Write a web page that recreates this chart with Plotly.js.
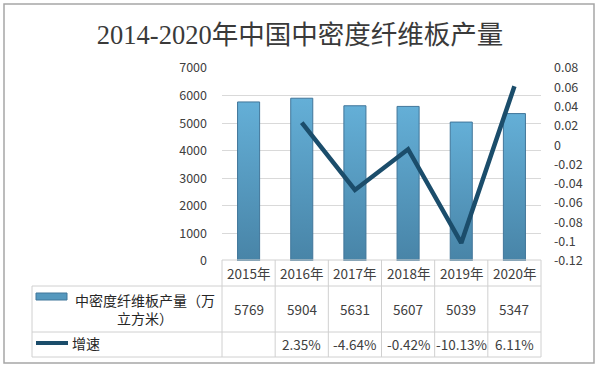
<!DOCTYPE html>
<html>
<head>
<meta charset="utf-8">
<script src="https://cdn.plot.ly/plotly-3.0.1.min.js"></script>
<style>
html,body{margin:0;padding:0;background:#fff;}
#chart{width:600px;height:368px;}
</style>
</head>
<body>
<div id="chart"></div>
<script>
const categories = ['2015年', '2016年', '2017年', '2018年', '2019年', '2020年'];
const production = [5769, 5904, 5631, 5607, 5039, 5347];
const growthPct = [null, 2.35, -4.64, -0.42, -10.13, 6.11];
const rightTickVals = [-0.12, -0.1, -0.08, -0.06, -0.04, -0.02, 0, 0.02, 0.04, 0.06, 0.08];
const barName = '中密度纤维板产量（万立方米）';
const lineName = '增速';
const titleText = '2014-2020年中国中密度纤维板产量';

const W = 600, H = 368;
const px = x => x / W;
const py = y => 1 - y / H;

const barColor = '#5598be';
const lineColor = '#1b4d6b';
const gridColor = '#d9d9d9';
const tableLine = '#d0d0d0';
const textColor = '#404040';
const cjk = 'Noto Sans CJK SC, Noto Sans, sans-serif';

const plotL = 222, plotR = 541, plotT = 68, plotB = 261;
const colW = (plotR - plotL) / categories.length;

const growth = growthPct.map(v => v === null ? null : v / 100);
const rightTickText = rightTickVals.map(v => String(parseFloat(v.toFixed(2))));

const traces = [
  {
    type: 'bar', x: categories, y: production, name: barName,
    marker: {color: barColor, line: {color: '#41769a', width: 1}},
    hoverinfo: 'skip', showlegend: false
  },
  {
    type: 'scatter', mode: 'lines', x: categories, y: growth, name: lineName,
    yaxis: 'y2', connectgaps: false,
    line: {color: lineColor, width: 4.5},
    hoverinfo: 'skip', showlegend: false
  }
];

const shapes = [];
const annotations = [];

// outer frame
shapes.push({type: 'rect', xref: 'paper', yref: 'paper', x0: px(4), x1: px(594), y0: py(4), y1: py(363),
  line: {color: '#a6a6a6', width: 1.5}, fillcolor: 'rgba(0,0,0,0)'});

// table geometry
const tabL = 32, hdrT = 260, row1T = 286, row2T = 332, tabB = 357;
shapes.push({type: 'line', xref: 'paper', yref: 'paper', x0: px(plotL), x1: px(plotR), y0: py(hdrT), y1: py(hdrT), line: {color: tableLine, width: 1}});
[row1T, row2T, tabB].forEach(y => shapes.push({type: 'line', xref: 'paper', yref: 'paper',
  x0: px(tabL), x1: px(plotR), y0: py(y), y1: py(y), line: {color: tableLine, width: 1}}));
shapes.push({type: 'line', xref: 'paper', yref: 'paper', x0: px(tabL), x1: px(tabL), y0: py(row1T), y1: py(tabB), line: {color: tableLine, width: 1}});
for (let i = 0; i <= categories.length; i++) {
  const x = plotL + i * colW;
  shapes.push({type: 'line', xref: 'paper', yref: 'paper', x0: px(x), x1: px(x), y0: py(hdrT), y1: py(tabB), line: {color: tableLine, width: 1}});
}

// legend keys
shapes.push({type: 'rect', xref: 'paper', yref: 'paper', x0: px(36), x1: px(67), y0: py(300), y1: py(293),
  fillcolor: barColor, line: {color: '#41769a', width: 1}});
shapes.push({type: 'line', xref: 'paper', yref: 'paper', x0: px(36), x1: px(68), y0: py(343), y1: py(343),
  line: {color: lineColor, width: 4}});

const tf = {family: cjk, size: 13.5, color: textColor};
annotations.push({xref: 'paper', yref: 'paper', x: px(145), y: py(309), text: '中密度纤维板产量（万<br>立方米）',
  showarrow: false, xanchor: 'center', yanchor: 'middle', align: 'center', font: {family: cjk, size: 14, color: '#262626'}});
annotations.push({xref: 'paper', yref: 'paper', x: px(70), y: py(343), text: lineName,
  showarrow: false, xanchor: 'left', yanchor: 'middle', font: {family: cjk, size: 14, color: '#262626'}});

categories.forEach((c, i) => {
  const cx = plotL + (i + 0.5) * colW;
  annotations.push({xref: 'paper', yref: 'paper', x: px(cx), y: py(273), text: c, showarrow: false,
    xanchor: 'center', yanchor: 'middle', font: tf});
  annotations.push({xref: 'paper', yref: 'paper', x: px(cx), y: py(309), text: String(production[i]), showarrow: false,
    xanchor: 'center', yanchor: 'middle', font: tf});
  if (growthPct[i] !== null) {
    annotations.push({xref: 'paper', yref: 'paper', x: px(cx), y: py(344), text: growthPct[i].toFixed(2) + '%', showarrow: false,
      xanchor: 'center', yanchor: 'middle', font: tf});
  }
});

const layout = {
  width: W, height: H,
  margin: {l: 0, r: 0, t: 0, b: 0},
  paper_bgcolor: '#ffffff', plot_bgcolor: 'rgba(0,0,0,0)',
  showlegend: false,
  bargap: 0.585,
  title: {text: titleText, x: 0.5, xanchor: 'center', y: py(35), yanchor: 'middle',
    font: {family: 'Liberation Serif, Noto Sans CJK SC, serif', size: 26.5, color: '#3a3a3a'}},
  xaxis: {domain: [px(plotL), px(plotR)], showticklabels: false, showgrid: false, zeroline: false,
    showline: false, fixedrange: true},
  yaxis: {domain: [py(plotB), py(plotT)], range: [0, 7000], dtick: 1000, tick0: 0,
    showgrid: true, gridcolor: gridColor, gridwidth: 1, zeroline: false, showline: false,
    ticks: '', ticklabelstandoff: 14, tickfont: {family: cjk, size: 12.5, color: textColor}},
  yaxis2: {domain: [py(plotB), py(plotT)], overlaying: 'y', side: 'right', range: [-0.12, 0.08],
    tickmode: 'array', tickvals: rightTickVals, ticktext: rightTickText,
    showgrid: false, zeroline: false, showline: false, ticks: '', ticklabelstandoff: 12,
    tickfont: {family: cjk, size: 12.5, color: textColor}},
  shapes: shapes,
  annotations: annotations
};

Plotly.newPlot('chart', traces, layout, {staticPlot: true, displayModeBar: false}).then(gd => {
  const svg = gd.querySelector('svg.main-svg');
  if (!svg) return;
  const ns = 'http://www.w3.org/2000/svg';
  let defs = svg.querySelector('defs');
  if (!defs) { defs = document.createElementNS(ns, 'defs'); svg.insertBefore(defs, svg.firstChild); }
  const grad = document.createElementNS(ns, 'linearGradient');
  grad.setAttribute('id', 'barGrad');
  grad.setAttribute('x1', '0'); grad.setAttribute('y1', '0');
  grad.setAttribute('x2', '0'); grad.setAttribute('y2', '1');
  [['0%', '#64afd7'], ['100%', '#4884a7']].forEach(([o, c]) => {
    const s = document.createElementNS(ns, 'stop');
    s.setAttribute('offset', o); s.setAttribute('stop-color', c);
    grad.appendChild(s);
  });
  defs.appendChild(grad);
  gd.querySelectorAll('.barlayer .point path').forEach(p => { p.style.fill = 'url(#barGrad)'; });
});
</script>
</body>
</html>
